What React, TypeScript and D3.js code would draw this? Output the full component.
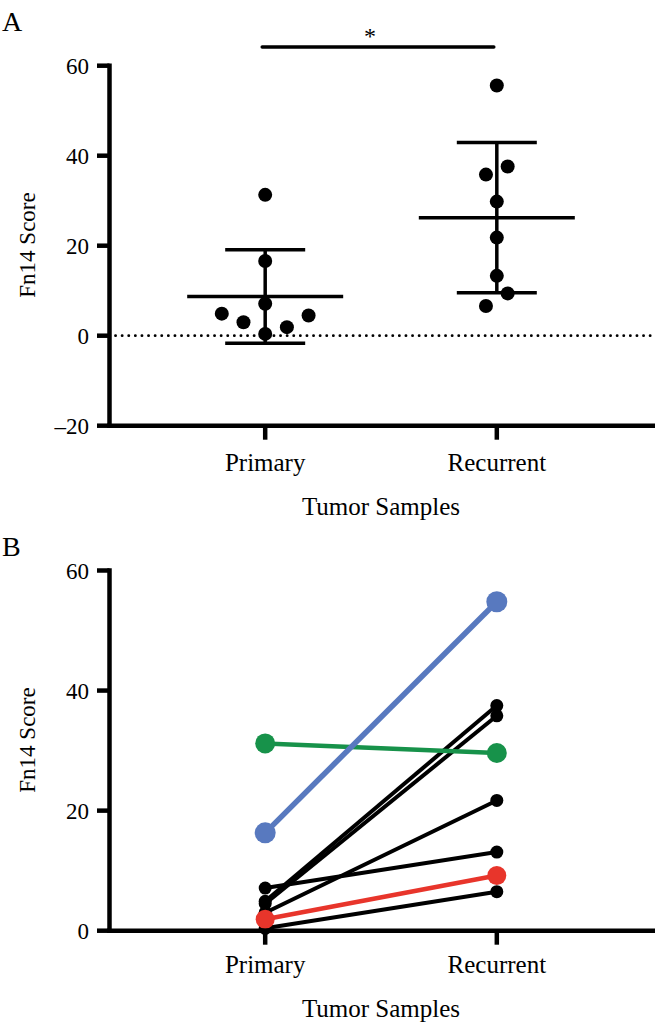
import React from "react";
import * as d3 from "d3";

// ---------- DATA ----------
const groups = ["Primary", "Recurrent"];
const yTicksA = [-20, 0, 20, 40, 60];
const yTicksB = [0, 20, 40, 60];
const yTickLabelsA = ["–20", "0", "20", "40", "60"];
const yTickLabelsB = ["0", "20", "40", "60"];

const primaryScores = [31.3, 16.6, 7.1, 4.9, 4.5, 3.0, 1.9, 0.4];
const recurrentScores = [55.6, 37.6, 35.8, 29.8, 21.8, 13.3, 9.4, 6.6];

// Panel B paired samples (primary -> recurrent)
const pairPrimary = [7.1, 4.9, 4.5, 3.0, 0.4, 1.9, 31.2, 16.3];
const pairRecurrent = [13.1, 37.5, 35.8, 21.7, 6.5, 9.2, 29.6, 54.8];
const pairColor = ["black", "black", "black", "black", "black", "red", "green", "blue"];

const yTitle = "Fn14 Score";
const xTitle = "Tumor Samples";
const sigLabel = "*";

// ---------- STYLE ----------
const FONT = "'Liberation Serif', 'DejaVu Serif', serif";
const COLORS: Record<string, string> = {
  black: "#000000",
  red: "#e8352b",
  green: "#17924a",
  blue: "#5879bf",
};
const RADIUS: Record<string, number> = { black: 6.5, red: 9.5, green: 10, blue: 10.5 };
const WIDTH: Record<string, number> = { black: 4, red: 4.5, green: 4.5, blue: 5.5 };

// beeswarm: bin by value, center points in each bin
function swarm(values: number[], binSize: number, step: number) {
  const bins = d3.group(values.map((v, i) => ({ v, i })), (d) => Math.floor(d.v / binSize));
  const off: number[] = new Array(values.length).fill(0);
  for (const [, arr] of bins) {
    const s = [...arr].sort((a, b) => a.v - b.v);
    const n = s.length;
    s.forEach((d, k) => {
      let o: number;
      if (n % 2 === 1) {
        const m = Math.ceil(k / 2);
        o = k === 0 ? 0 : (k % 2 === 1 ? m : -m);
      } else {
        const m = Math.floor(k / 2) + 0.5;
        o = k % 2 === 0 ? -m : m;
      }
      off[d.i] = o * step;
    });
  }
  return off;
}

export default function App() {
  const axisX = 109.5;
  const x = d3.scalePoint<string>().domain(groups).range([110, 652]).padding(0.67);
  const yA = d3.scaleLinear().domain([-20, 60]).range([425.7, 65.7]);
  const yB = d3.scaleLinear().domain([0, 60]).range([930.7, 570.5]);

  const series = [primaryScores, recurrentScores];

  const axisW = 4.5;

  const yAxis = (
    y: d3.ScaleLinear<number, number>,
    ticks: number[],
    labels: string[],
    bottom: number
  ) => (
    <g>
      <line x1={axisX} x2={axisX} y1={y(d3.max(ticks)!) - axisW / 2} y2={y(bottom) + axisW / 2} stroke="#000" strokeWidth={axisW} />
      {ticks.map((t, i) => (
        <g key={t}>
          <line x1={97} x2={axisX} y1={y(t)} y2={y(t)} stroke="#000" strokeWidth={axisW} />
          <text x={89} y={y(t)} dy="0.35em" textAnchor="end" fontFamily={FONT} fontSize={23}>
            {labels[i]}
          </text>
        </g>
      ))}
    </g>
  );

  const xAxis = (yPos: number, labelY: number, titleY: number) => (
    <g>
      <line x1={axisX - axisW / 2} x2={655} y1={yPos} y2={yPos} stroke="#000" strokeWidth={axisW} />
      {groups.map((g) => (
        <g key={g}>
          <line x1={x(g)} x2={x(g)} y1={yPos} y2={yPos + 14} stroke="#000" strokeWidth={axisW} />
          <text x={x(g)} y={labelY} textAnchor="middle" fontFamily={FONT} fontSize={25}>
            {g}
          </text>
        </g>
      ))}
      <text x={381} y={titleY} textAnchor="middle" fontFamily={FONT} fontSize={25}>
        {xTitle}
      </text>
    </g>
  );

  return (
    <svg
      width={655}
      height={1024}
      style={{ position: "absolute", left: 0, top: 0, background: "#fff" }}
    >
      <rect width={655} height={1024} fill="#fff" />
      {/* ---------- Panel A ---------- */}
      <text x={2} y={31} fontFamily={FONT} fontSize={28}>A</text>
      <text transform={`translate(35,245) rotate(-90)`} textAnchor="middle" fontFamily={FONT} fontSize={23}>
        {yTitle}
      </text>
      {/* zero dotted line */}
      <line x1={axisX + 6} x2={655} y1={yA(0)} y2={yA(0)} stroke="#000" strokeWidth={2.8} strokeDasharray="0.1 6.5" strokeLinecap="round" />
      {series.map((vals, gi) => {
        const cx = x(groups[gi])!;
        const offs = swarm(vals, 5, 21.7);
        const m = d3.mean(vals)!;
        const sd = d3.deviation(vals)!;
        return (
          <g key={gi}>
            <line x1={cx} x2={cx} y1={yA(m + sd)} y2={yA(m - sd)} stroke="#000" strokeWidth={3.5} />
            <line x1={cx - 40} x2={cx + 40} y1={yA(m + sd)} y2={yA(m + sd)} stroke="#000" strokeWidth={3.5} />
            <line x1={cx - 40} x2={cx + 40} y1={yA(m - sd)} y2={yA(m - sd)} stroke="#000" strokeWidth={3.5} />
            <line x1={cx - 78} x2={cx + 78} y1={yA(m)} y2={yA(m)} stroke="#000" strokeWidth={3.5} />
            {vals.map((v, i) => (
              <circle key={i} cx={cx + offs[i]} cy={yA(v)} r={7} fill="#000" />
            ))}
          </g>
        );
      })}
      {yAxis(yA, yTicksA, yTickLabelsA, -20)}
      {xAxis(yA(-20), 471, 515)}
      {/* significance */}
      <line x1={x(groups[0])! - 3} x2={x(groups[1])! - 3} y1={47} y2={47} stroke="#000" strokeWidth={3.5} strokeLinecap="round" />
      <text x={370} y={44} textAnchor="middle" fontFamily={FONT} fontSize={24}>{sigLabel}</text>

      {/* ---------- Panel B ---------- */}
      <text x={2} y={556} fontFamily={FONT} fontSize={28}>B</text>
      <text transform={`translate(35,740) rotate(-90)`} textAnchor="middle" fontFamily={FONT} fontSize={23}>
        {yTitle}
      </text>
      {pairPrimary.map((p, i) => {
        const c = pairColor[i];
        const x0 = x(groups[0])!;
        const x1 = x(groups[1])!;
        return (
          <g key={i}>
            <line x1={x0} x2={x1} y1={yB(p)} y2={yB(pairRecurrent[i])} stroke={COLORS[c]} strokeWidth={WIDTH[c]} />
            <circle cx={x0} cy={yB(p)} r={RADIUS[c]} fill={COLORS[c]} />
            <circle cx={x1} cy={yB(pairRecurrent[i])} r={RADIUS[c]} fill={COLORS[c]} />
          </g>
        );
      })}
      {yAxis(yB, yTicksB, yTickLabelsB, 0)}
      {xAxis(yB(0), 973, 1017)}
    </svg>
  );
}
